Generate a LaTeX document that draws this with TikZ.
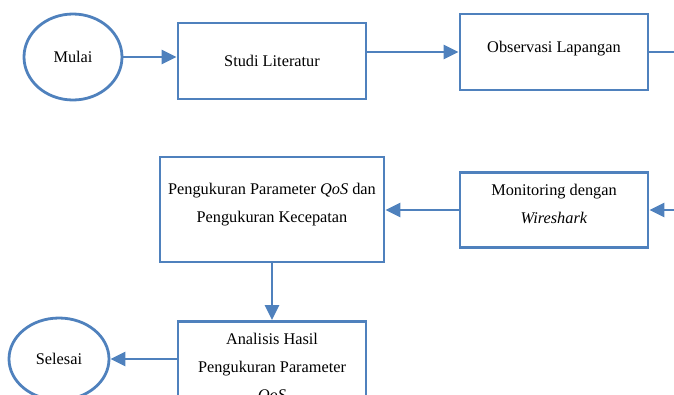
\documentclass[tikz,border=0pt]{standalone}
\usepackage{fontspec}
\setmainfont{Liberation Serif}
\usetikzlibrary{arrows.meta,shapes.geometric}
\definecolor{flowblue}{RGB}{79,129,189}
\tikzset{
  proc/.style={draw=flowblue, line width=2.8pt, align=center, inner sep=0pt},
  term/.style={draw=flowblue, line width=2.8pt, ellipse, inner sep=0pt},
  flow/.style={draw=flowblue, line width=2.8pt, -{Triangle[length=15pt,width=14pt]}},
  link/.style={draw=flowblue, line width=2.8pt}
}
\begin{document}
\begin{tikzpicture}[x=1pt,y=-1pt,font=\fontsize{16.3}{28}\selectfont]
\useasboundingbox (0,0) rectangle (674,394);
\clip (0,0) rectangle (674,394);

% first row
\node[term, minimum width=98pt, minimum height=86pt] (mulai) at (73,57) {Mulai};
\node[proc, minimum width=188pt, minimum height=76pt] (studi) at (272,61) {Studi Literatur};
\node[proc, minimum width=188pt, minimum height=76pt, text depth=10pt] (observasi) at (554,52) {Observasi Lapangan};
\coordinate (rowend) at (690,52);

% second row
\node[proc, minimum width=224pt, minimum height=105pt, text depth=14pt] (ukur) at (272,209.5)
  {Pengukuran Parameter \textit{QoS} dan\\Pengukuran Kecepatan};
\node[proc, minimum width=188pt, minimum height=75pt, text depth=12pt] (monitor) at (554,210)
  {Monitoring dengan\\\textit{Wireshark}};
\coordinate (rowin) at (690,210);

% third row
\node[proc, minimum width=188pt, minimum height=94pt, anchor=north] (analisis) at (272,320)
  {Analisis Hasil\\Pengukuran Parameter\\\textit{QoS}};
\node[term, minimum width=100pt, minimum height=82pt] (selesai) at (59,359) {Selesai};

\draw[flow] (mulai.east) -- (mulai.east -| studi.west);
\draw[flow] (studi.east |- observasi) -- (observasi.west);
\draw[link] (observasi.east) -- (rowend);
\draw[flow] (rowin) -- (monitor.east);
\draw[flow] (monitor.west) -- (monitor.west -| ukur.east);
\draw[flow] (ukur.south) -- (analisis.north);
\draw[flow] (analisis.west |- selesai) -- (selesai.east);

\end{tikzpicture}
\end{document}
